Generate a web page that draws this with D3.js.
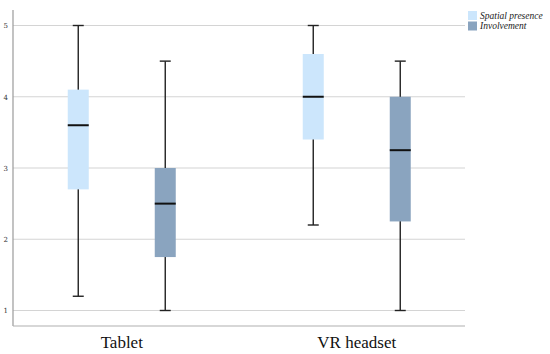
<!DOCTYPE html>
<html><head><meta charset="utf-8">
<script src="https://cdn.jsdelivr.net/npm/d3@7"></script>
<style>body{margin:0;background:#fff}svg{display:block}</style>
</head><body><div id="c"></div>
<script>
const categories = ["Tablet", "VR headset"];
const series = ["Spatial presence", "Involvement"];
const colors = ["#cce6fc", "#8aa4bf"];
// [min, q1, median, q3, max] per category for each series
const spatialPresence = [[1.2, 2.7, 3.6, 4.1, 5.0], [2.2, 3.4, 4.0, 4.6, 5.0]];
const involvement = [[1.0, 1.75, 2.5, 3.0, 4.5], [1.0, 2.25, 3.25, 4.0, 4.5]];
const yTicks = [1, 2, 3, 4, 5];

const W = 550, H = 354;
const svg = d3.select("#c").append("svg").attr("width", W).attr("height", H);
const plotL = 13, plotR = 465, plotT = 10, plotB = 326;

const y = d3.scaleLinear().domain([1, 5]).range([310.5, 25.5]);
const x0 = d3.scaleBand().domain(categories).range([4.25, 474.25]);
const x1 = d3.scaleBand().domain(series).range([30.5, 204.5]);
const boxW = 21, capW = 11;

// gridlines
svg.append("g").selectAll("line").data(yTicks).join("line")
  .attr("x1", plotL).attr("x2", plotR)
  .attr("y1", d => y(d)).attr("y2", d => y(d))
  .attr("stroke", "#d4d4d4").attr("stroke-width", 1.2);

// axes
const ya = svg.append("g").attr("transform", `translate(${plotL},0)`)
  .call(d3.axisLeft(y).tickValues(yTicks).tickSize(0).tickPadding(5).tickFormat(d3.format("d")));
ya.select(".domain").remove();
ya.selectAll("text").attr("font-family", "DejaVu Serif, serif").attr("font-size", 7).attr("fill", "#333");
svg.append("line").attr("x1", plotL).attr("x2", plotL).attr("y1", plotT).attr("y2", plotB)
  .attr("stroke", "#9a9a9a").attr("stroke-width", 1.2);
svg.append("line").attr("x1", plotL).attr("x2", plotR).attr("y1", plotB).attr("y2", plotB)
  .attr("stroke", "#b0b0b0").attr("stroke-width", 1.2);

const xa = svg.append("g").attr("transform", `translate(0,${plotB})`)
  .call(d3.axisBottom(x0).tickSize(0).tickPadding(10));
xa.select(".domain").remove();
xa.selectAll("text").attr("font-family", "Liberation Serif, serif").attr("font-size", 17).attr("fill", "#111");

const data = [];
categories.forEach((c, i) => {
  data.push({c, s: series[0], v: spatialPresence[i], col: colors[0]});
  data.push({c, s: series[1], v: involvement[i], col: colors[1]});
});

const g = svg.append("g").selectAll("g").data(data).join("g")
  .attr("transform", d => `translate(${x0(d.c) + x1(d.s) + x1.bandwidth()/2},0)`);
g.append("line").attr("x1", 0).attr("x2", 0)
  .attr("y1", d => y(d.v[0])).attr("y2", d => y(d.v[4]))
  .attr("stroke", "#222").attr("stroke-width", 1.4);
g.append("line").attr("x1", -capW/2).attr("x2", capW/2)
  .attr("y1", d => y(d.v[0])).attr("y2", d => y(d.v[0]))
  .attr("stroke", "#222").attr("stroke-width", 1.4);
g.append("line").attr("x1", -capW/2).attr("x2", capW/2)
  .attr("y1", d => y(d.v[4])).attr("y2", d => y(d.v[4]))
  .attr("stroke", "#222").attr("stroke-width", 1.4);
g.append("rect").attr("x", -boxW/2).attr("width", boxW)
  .attr("y", d => y(d.v[3])).attr("height", d => y(d.v[1]) - y(d.v[3]))
  .attr("fill", d => d.col);
g.append("line").attr("x1", -boxW/2).attr("x2", boxW/2)
  .attr("y1", d => y(d.v[2])).attr("y2", d => y(d.v[2]))
  .attr("stroke", "#111").attr("stroke-width", 2);

// legend
const lg = svg.append("g").attr("transform", "translate(468,11)");
series.forEach((s, i) => {
  lg.append("rect").attr("x", 0).attr("y", i * 10.5).attr("width", 9).attr("height", 9).attr("fill", colors[i]);
  lg.append("text").attr("x", 12).attr("y", i * 10.5 + 7.5).text(s)
    .attr("font-family", "Liberation Serif, serif").attr("font-style", "italic")
    .attr("font-size", 9.5).attr("fill", "#222");
});
</script></body></html>
